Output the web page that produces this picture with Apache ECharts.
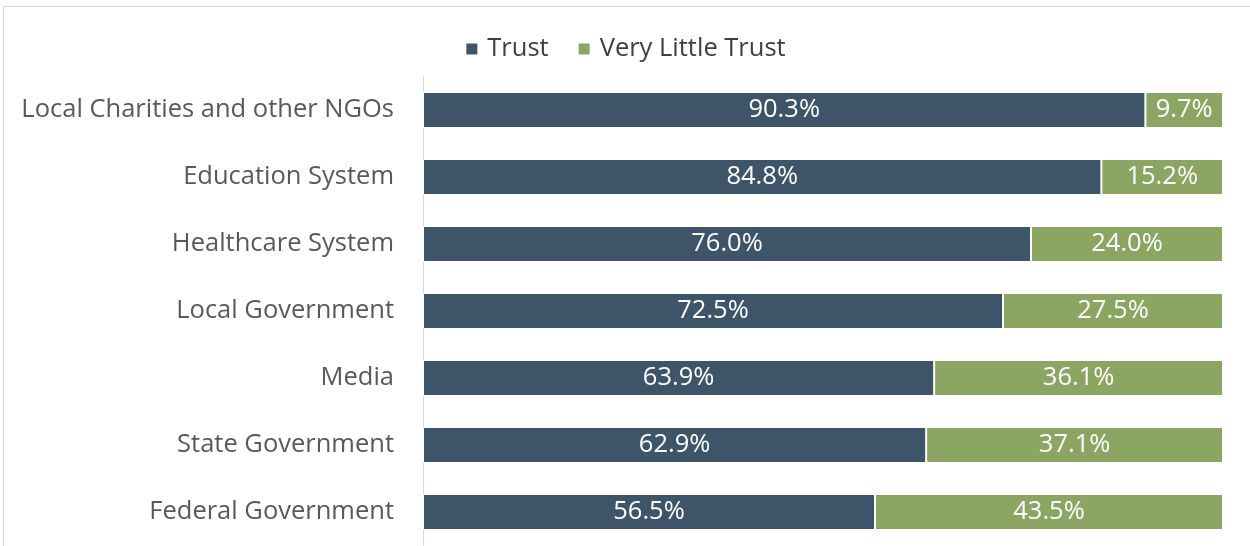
<!DOCTYPE html>
<html><head><meta charset="utf-8">
<script src="https://cdn.jsdelivr.net/npm/echarts@6/dist/echarts.min.js"></script>
<style>html,body{margin:0;padding:0;background:#fff}#c{width:1250px;height:546px}</style>
</head><body><div id="c"></div>
<script>
const categories = ["Local Charities and other NGOs","Education System","Healthcare System","Local Government","Media","State Government","Federal Government"];
const trust = [90.3, 84.8, 76.0, 72.5, 63.9, 62.9, 56.5];
const littleTrust = [9.7, 15.2, 24.0, 27.5, 36.1, 37.1, 43.5];
const seriesNames = ["Trust", "Very Little Trust"];
const font = "'Open Sans', 'Liberation Sans', sans-serif";
const chart = echarts.init(document.getElementById('c'));
const lbl = {show:true, position:'inside', color:'#fff', fontSize:25.5, fontFamily:font, formatter:p=>p.value.toFixed(1)+'%'};
chart.setOption({
  animation:false,
  graphic:[{type:'rect', shape:{x:3.5,y:6.5,width:1260,height:560}, style:{fill:'none', stroke:'#d9d9d9', lineWidth:1}, silent:true}],
  legend:{top:31, left:'center', itemWidth:13, itemHeight:13, itemGap:28, icon:'rect',
    textStyle:{color:'#404040', fontSize:25.5, fontFamily:font, padding:[0,0,0,4]}, data:seriesNames},
  grid:{left:423, right:27, top:76.5, bottom:0.5, containLabel:false},
  xAxis:{type:'value', min:0, max:100, show:false},
  yAxis:{type:'category', data:categories, inverse:true,
    axisLine:{show:true, lineStyle:{color:'#d9d9d9', width:1}}, axisTick:{show:false},
    axisLabel:{color:'#595959', fontSize:25.5, fontFamily:font, margin:29}},
  series:[
    {name:seriesNames[0], type:'bar', stack:'s', data:trust, barWidth:36, itemStyle:{color:'#3e5569', borderColor:'#fff', borderWidth:1}, label:lbl},
    {name:seriesNames[1], type:'bar', stack:'s', data:littleTrust, barWidth:36, itemStyle:{color:'#8ba662', borderColor:'#fff', borderWidth:1}, label:lbl}
  ]
});
</script></body></html>
